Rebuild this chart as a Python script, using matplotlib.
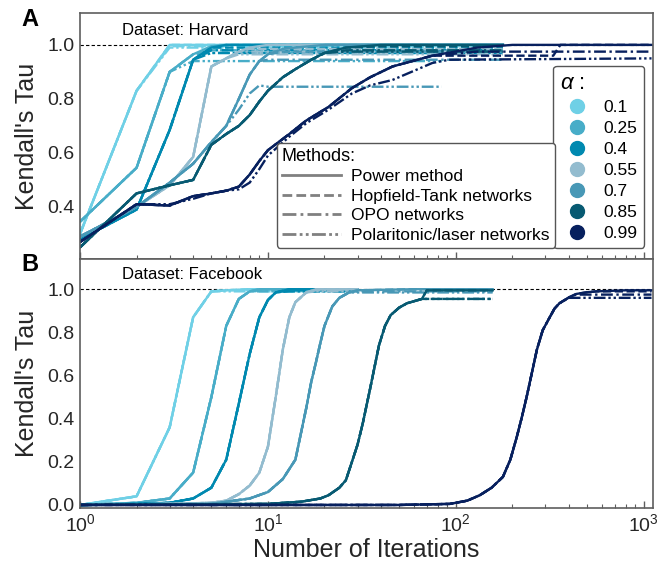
import matplotlib.pyplot as plt
import numpy as np
from matplotlib.lines import Line2D

plt.rcParams["font.family"] = ["Liberation Sans", "DejaVu Sans"]
plt.rcParams["mathtext.fontset"] = "custom"
plt.rcParams["mathtext.rm"] = "Liberation Sans"
plt.rcParams["mathtext.it"] = "Liberation Sans:italic"

TEXT = "#262626"
SPINE = "#5e5e5e"

alphas = ["0.1", "0.25", "0.4", "0.55", "0.7", "0.85", "0.99"]
alpha_colors = ["#6fd0e6", "#48adc8", "#0089b0", "#93bccf", "#4898b6", "#075a72", "#07205e"]

method_names = ["Power method", "Hopfield-Tank networks", "OPO networks", "Polaritonic/laser networks"]
method_styles = ["-", (0, (3.5, 1.5)), (0, (5, 1.5, 1, 1.5)), (0, (5, 1.2, 1, 1.2, 1, 1.2))]

# --- Dataset: Harvard, power method (iterations, Kendall's tau) ---
harvard_x = [
    [1, 2, 3, 178],
    [1, 2, 3, 4, 5, 6, 178],
    [1, 2, 3, 4, 5, 6, 178],
    [1, 2, 3, 4, 5, 6, 7, 8, 10, 178],
    [1, 2, 3, 4, 5, 6, 7, 8, 9, 10, 12, 14, 20, 178],
    [1, 2, 3, 4, 5, 6, 7, 8, 9, 10, 12, 14, 17, 20, 26, 40, 178],
    [1, 2, 3, 4, 5, 6, 7, 8, 9, 10, 13, 16, 21, 28, 35, 46, 75, 130, 200, 1100],
]
harvard_y = [
    [0.30, 0.83, 1.0, 1.0],
    [0.345, 0.545, 0.90, 0.965, 0.995, 1.0, 1.0],
    [0.28, 0.39, 0.685, 0.945, 0.99, 1.0, 1.0],
    [0.29, 0.40, 0.48, 0.585, 0.92, 0.95, 0.975, 0.99, 1.0, 1.0],
    [0.29, 0.40, 0.49, 0.56, 0.64, 0.70, 0.80, 0.89, 0.94, 0.965, 0.985, 0.99, 1.0, 1.0],
    [0.25, 0.45, 0.48, 0.50, 0.63, 0.67, 0.70, 0.74, 0.79, 0.83, 0.88, 0.91, 0.945, 0.97, 0.99, 1.0, 1.0],
    [0.27, 0.41, 0.405, 0.44, 0.45, 0.46, 0.475, 0.52, 0.57, 0.61, 0.67, 0.72, 0.77, 0.84, 0.88, 0.92, 0.96, 0.99, 1.0, 1.0],
]
# plateau value and last iteration for Hopfield-Tank, OPO, Polaritonic
harvard_caps = [
    [(1.0, 178), (0.995, 178), (0.99, 84)],
    [(0.98, 178), (0.97, 178), (0.94, 84)],
    [(0.99, 178), (0.98, 178), (0.97, 178)],
    [(0.985, 178), (0.975, 178), (0.965, 178)],
    [(0.975, 178), (0.945, 178), (0.845, 84)],
    [(0.995, 178), (0.98, 178), (0.975, 178)],
    [(0.96, 1100), (0.975, 1100), (0.95, 1100)],
]
harvard_hop_099_x = [1, 2, 3, 4, 5, 6, 7, 8, 9, 10, 13, 16, 21, 28, 35, 46, 75, 330, 360, 1100]
harvard_hop_099_y = [0.27, 0.41, 0.405, 0.44, 0.45, 0.46, 0.475, 0.52, 0.57, 0.61, 0.67, 0.72, 0.77, 0.84, 0.88, 0.92, 0.96, 0.96, 1.0, 1.0]
harvard_pol_099_x = [1, 2, 3, 4, 5, 6, 7, 8, 9, 10, 13, 16, 21, 28, 35, 46, 75, 92, 1100]
harvard_pol_099_y = [0.27, 0.41, 0.41, 0.43, 0.45, 0.46, 0.465, 0.49, 0.54, 0.59, 0.66, 0.71, 0.76, 0.82, 0.85, 0.87, 0.933, 0.945, 0.95]
harvard_pol_07_x = [1, 2, 3, 4, 5, 6, 7, 8, 9, 10, 84]
harvard_pol_07_y = [0.29, 0.40, 0.49, 0.56, 0.64, 0.70, 0.76, 0.82, 0.85, 0.845, 0.845]

# --- Dataset: Facebook, power method ---
facebook_x = [
    [1, 2, 3, 4, 5, 6, 8, 30],
    [1, 2, 3, 4, 5, 6, 7, 8, 9, 30],
    [1, 2, 3, 4, 5, 6, 7, 8, 9, 10, 11, 13, 30],
    [1, 3, 5, 6, 7, 8, 9, 10, 11, 12, 13, 14, 16, 18, 30],
    [1, 5, 8, 10, 12, 14, 16, 17, 18, 19, 20, 22, 24, 27, 30, 60, 157],
    [1, 10, 15, 19, 21, 24, 26, 28, 30, 32, 35, 39, 42, 45, 50, 55, 66, 70, 157],
    [1, 50, 93, 115, 134, 155, 178, 195, 211, 225, 238, 255, 270, 290, 316, 335, 356, 400, 437, 500, 560, 800, 1100],
]
facebook_y = [
    [0.0, 0.04, 0.36, 0.87, 0.99, 0.995, 1.0, 1.0],
    [0.0, 0.01, 0.03, 0.15, 0.50, 0.83, 0.955, 0.99, 1.0, 1.0],
    [0.0, 0.005, 0.01, 0.03, 0.08, 0.21, 0.47, 0.70, 0.87, 0.95, 0.985, 1.0, 1.0],
    [0.0, 0.005, 0.01, 0.02, 0.05, 0.09, 0.15, 0.27, 0.50, 0.72, 0.87, 0.94, 0.985, 1.0, 1.0],
    [0.0, 0.005, 0.03, 0.06, 0.12, 0.21, 0.45, 0.57, 0.66, 0.75, 0.83, 0.92, 0.96, 0.985, 0.995, 1.0, 1.0],
    [0.0, 0.005, 0.015, 0.03, 0.045, 0.08, 0.115, 0.20, 0.28, 0.38, 0.54, 0.74, 0.83, 0.88, 0.915, 0.935, 0.955, 0.995, 0.995],
    [0.0, 0.0, 0.005, 0.02, 0.045, 0.08, 0.13, 0.21, 0.315, 0.41, 0.50, 0.62, 0.72, 0.81, 0.87, 0.91, 0.935, 0.962, 0.978, 0.986, 0.99, 0.995, 0.995],
]
facebook_caps = [
    [(1.0, 30), (0.995, 30), (0.99, 30)],
    [(1.0, 30), (0.995, 30), (0.99, 30)],
    [(1.0, 30), (0.995, 30), (0.99, 30)],
    [(1.0, 30), (0.995, 30), (0.99, 30)],
    [(1.0, 157), (0.99, 157), (0.985, 157)],
    [(0.995, 157), (0.955, 157), (0.955, 157)],
    [(0.99, 1100), (0.975, 1100), (0.96, 1100)],
]

harvard_overrides = {
    (6, 1): (harvard_hop_099_x, harvard_hop_099_y),
    (6, 3): (harvard_pol_099_x, harvard_pol_099_y),
    (4, 3): (harvard_pol_07_x, harvard_pol_07_y),
}


def draw_panel(ax, xs, ys, caps, overrides):
    for i in range(len(alphas)):
        x = np.array(xs[i], dtype=float)
        y = np.array(ys[i], dtype=float)
        color = alpha_colors[i]
        ax.plot(x, y, color=color, lw=1.7, ls=method_styles[0])
        for j in range(1, 4):
            if (i, j) in overrides:
                mx, my = overrides[(i, j)]
            else:
                cap, end = caps[i][j - 1]
                keep = x <= end
                mx = x[keep]
                my = np.minimum(y[keep], cap)
                if end > mx[-1]:
                    mx = np.append(mx, end)
                    my = np.append(my, min(cap, y[-1]))
            ax.plot(mx, my, color=color, lw=1.7, ls=method_styles[j])
    ax.axhline(1.0, color="black", lw=0.8, ls=(0, (3, 2)), zorder=0)


fig = plt.figure(figsize=(6.58, 5.66), dpi=100)
ax_a = fig.add_axes([0.1216, 0.5424, 0.8708, 0.4346])
ax_b = fig.add_axes([0.1216, 0.1025, 0.8708, 0.4399], sharex=ax_a)

draw_panel(ax_a, harvard_x, harvard_y, harvard_caps, harvard_overrides)
draw_panel(ax_b, facebook_x, facebook_y, facebook_caps, {})

for ax in (ax_a, ax_b):
    ax.set_xscale("log")
    for s in ax.spines.values():
        s.set_color(SPINE)
        s.set_linewidth(1.2)
    ax.tick_params(axis="x", which="both", direction="in", colors=SPINE, labelcolor=TEXT, labelsize=14)
    ax.tick_params(axis="x", which="major", length=5, width=1)
    ax.tick_params(axis="x", which="minor", length=3, width=0.8)
    ax.tick_params(axis="y", length=0, labelsize=14, labelcolor=TEXT, pad=4)
    ax.set_ylabel("Kendall's Tau", fontsize=18, color=TEXT, labelpad=6)

ax_a.set_xlim(1, 1120)
ax_a.set_ylim(0.207, 1.118)
ax_a.set_yticks([0.4, 0.6, 0.8, 1.0])
ax_a.tick_params(axis="x", which="both", labelbottom=False)
ax_b.set_ylim(-0.014, 1.14)
ax_b.set_yticks([0.0, 0.2, 0.4, 0.6, 0.8, 1.0])
ax_b.set_xlabel("Number of Iterations", fontsize=18, color=TEXT, labelpad=2)

ax_a.text(0.073, 0.93, "Dataset: Harvard", transform=ax_a.transAxes, fontsize=12, color="black", va="center")
ax_b.text(0.073, 0.936, "Dataset: Facebook", transform=ax_b.transAxes, fontsize=12, color="black", va="center")
fig.text(0.046, 0.965, "A", fontsize=17, fontweight="bold", ha="center", va="center")
fig.text(0.046, 0.532, "B", fontsize=17, fontweight="bold", ha="center", va="center")

# legends
alpha_handles = [Line2D([], [], ls="none", marker="o", markersize=10, color=c) for c in alpha_colors]
leg_alpha = ax_a.legend(alpha_handles, alphas, title="$\\alpha$ :", loc="lower right",
                        bbox_to_anchor=(0.985, 0.045), borderaxespad=0, fontsize=12.5,
                        title_fontsize=16, alignment="left", handletextpad=0.5,
                        labelspacing=0.34, borderpad=0.4, framealpha=1, edgecolor="#555555")
leg_alpha.get_frame().set_linewidth(1)
ax_a.add_artist(leg_alpha)

method_handles = [Line2D([], [], color="#808080", lw=2, ls=s) for s in method_styles]
leg_m = ax_a.legend(method_handles, method_names, title="Methods:", loc="lower right",
                    bbox_to_anchor=(0.829, 0.045), borderaxespad=0, fontsize=12.5,
                    title_fontsize=13, alignment="left", handlelength=3.4, handletextpad=0.6,
                    labelspacing=0.25, borderpad=0.3, framealpha=1, edgecolor="#555555")
leg_m.get_frame().set_linewidth(1)

fig.savefig("out.png", dpi=100)
